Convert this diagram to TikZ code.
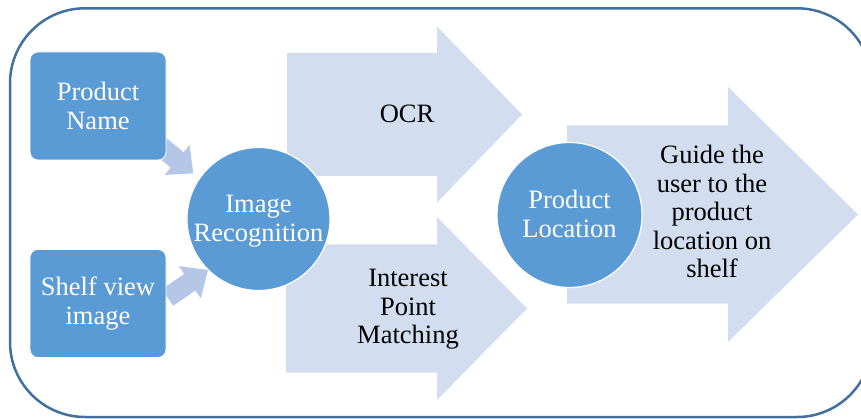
\documentclass[tikz,border=0pt]{standalone}
\usepackage{fontspec}
\setmainfont{Liberation Serif}
\newfontfamily\diagfont{Liberation Serif}
\definecolor{shapeblue}{RGB}{91,155,213}
\definecolor{paleblue}{RGB}{210,222,239}
\definecolor{linkblue}{RGB}{180,199,231}
\definecolor{frameblue}{RGB}{65,113,156}
\tikzset{
  txt/.style={font=\diagfont\fontsize{26.5}{28.5}\selectfont, align=center, inner sep=0pt},
  inputbox/.style={txt, fill=shapeblue, draw=white, line width=0.8pt, text=white,
    rounded corners=8pt, minimum width=136pt, minimum height=108pt},
  stagecircle/.style={txt, circle, fill=shapeblue, draw=white, line width=1.2pt, text=white},
  % block arrow: body length / body half-width / head half-width / head length
  pics/blockarrow/.style n args={4}{code={
    \fill[pic actions] (0,-#2) -- (#1,-#2) -- (#1,-#3) -- (#1+#4,0)
      -- (#1,#3) -- (#1,#2) -- (0,#2) -- cycle;}},
}
\begin{document}
\begin{tikzpicture}[x=1pt, y=-1pt]
\useasboundingbox (0,0) rectangle (861,419);
\fill[white] (0,0) rectangle (861,419);
% outer frame
\draw[frameblue, line width=2.5pt, rounded corners=75pt] (10,8.3) rectangle (872,417);

% process arrows
\pic[fill=paleblue] at (287,114.5) {blockarrow={150}{61.5}{88}{85}};
\pic[fill=paleblue] at (286,308.5) {blockarrow={151}{64}{91.5}{90}};
\pic[fill=paleblue] at (567,214.5) {blockarrow={161}{89}{127.5}{130}};

% small link arrows into the recognition step
\pic[fill=linkblue, rotate=-39.8] at (161,146.5) {blockarrow={21}{10}{19.5}{21}};
\pic[fill=linkblue, rotate=34.3] at (167.5,297.5) {blockarrow={27}{10}{19.5}{22}};

% input boxes
\node[inputbox] (pn) at (98,106) {Product\\Name};
\node[inputbox] (sv) at (98,303.5) {Shelf view\\image};

% stage circles
\node[stagecircle, minimum size=143pt] (ir) at (258.5,219) {};
\node[txt, text=white] (irt) at (258.5,221) {Image\\Recognition};
\node[stagecircle, minimum size=145pt] (pl) at (569.5,215) {};
\node[txt, text=white] (plt) at (569.5,214) {Product\\Location};

% arrow labels
\node[txt] (ocr) at (407,113.5) {OCR};
\node[txt] (ipm) at (408,309.5) {Interest\\Point\\Matching};
\node[txt] (guide) at (712,211.5) {Guide the\\user to the\\product\\location on\\shelf};
\end{tikzpicture}
\end{document}
